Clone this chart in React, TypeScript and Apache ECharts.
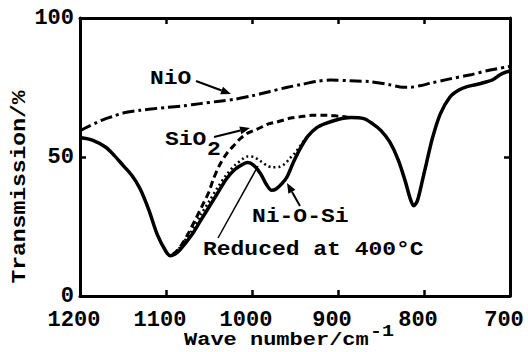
import React, { useEffect, useRef } from "react";
import * as echarts from "echarts";

// Axis ticks
const xTickValues = [1200, 1100, 1000, 900, 800, 700];
const yTickValues = [0, 50, 100];

// Solid curve (sample)
const solidWn = [1200, 1185, 1170, 1160, 1150, 1140, 1130, 1120, 1110, 1100, 1095, 1090, 1084, 1070, 1060, 1050, 1040, 1030, 1020, 1010, 1005, 998, 990, 983, 977, 972, 965, 959, 952, 944, 935, 925, 915, 900, 885, 870, 860, 850, 840, 830, 822, 816, 812, 808, 803, 797, 790, 781, 770, 760, 750, 740, 730, 720, 712, 705, 700];
const solidT = [57, 56, 53.5, 50.5, 47, 43.5, 38.5, 31, 22, 16, 14.5, 15, 16.5, 22, 27, 32, 37, 42, 45.5, 47.5, 48, 47, 44, 40, 38, 38.5, 40.5, 43, 48, 53, 57.5, 60.5, 62, 63.5, 64.2, 63.8, 62, 59.5, 55.5, 49, 41.5, 35, 32.5, 34, 40, 48, 57, 65.5, 71.5, 74, 75.3, 76, 76.8, 77.8, 79.5, 80.5, 81];

// Dashed curve (SiO2)
const sio2Wn = [1092, 1085, 1075, 1065, 1057, 1050, 1045, 1037, 1029, 1020, 1014, 1005, 994, 980, 971, 955, 944, 930, 913, 900, 890, 880];
const sio2T = [15, 17, 22, 28, 33, 37.5, 42, 47.5, 51.4, 54.5, 56.5, 58.6, 60, 62, 62.6, 64, 64.5, 65, 65, 64.7, 64.4, 64.2];

// Dotted curve (reduced at 400 °C)
const reducedWn = [1085, 1070, 1060, 1050, 1040, 1030, 1020, 1010, 1005, 998, 990, 983, 976, 968, 962, 956, 950, 944, 938, 930];
const reducedT = [17, 23.5, 29, 34, 39, 43.5, 47, 49.5, 50.2, 50, 48.5, 47, 46.3, 46.5, 47.5, 49.5, 51.5, 54, 56.5, 59];

// Dash-dot curve (NiO)
const nioWn = [1200, 1190, 1180, 1170, 1160, 1150, 1130, 1110, 1100, 1080, 1060, 1040, 1020, 1000, 980, 960, 944, 925, 909, 886, 863, 840, 828, 816, 805, 793, 770, 747, 723, 700];
const nioT = [59.5, 61, 62.5, 63.8, 64.8, 65.8, 66.8, 67.5, 67.8, 68.4, 69.2, 70, 70.8, 72, 73.5, 75, 76, 77.2, 77.7, 77.4, 77.1, 76, 75.2, 75.1, 75.6, 76.5, 78.1, 79.5, 81.3, 82.6];

const FONT = "'Liberation Mono', 'Courier New', monospace";

function zip(xs: number[], ys: number[]) {
  return xs.map((x, i) => [x, ys[i]]);
}

function arrow(x1: number, y1: number, x2: number, y2: number, head = 10, half = 4) {
  const dx = x2 - x1;
  const dy = y2 - y1;
  const len = Math.sqrt(dx * dx + dy * dy);
  const ux = dx / len;
  const uy = dy / len;
  const bx = x2 - ux * head;
  const by = y2 - uy * head;
  return [
    {
      type: "line",
      shape: { x1, y1, x2: bx, y2: by },
      style: { stroke: "#000", lineWidth: 2 },
    },
    {
      type: "polygon",
      shape: {
        points: [
          [x2, y2],
          [bx - uy * half, by + ux * half],
          [bx + uy * half, by - ux * half],
        ],
      },
      style: { fill: "#000" },
    },
  ];
}

function txt(text: string, x: number, y: number, size = 23, align = "left", extra: any = {}) {
  return {
    type: "text",
    x,
    y,
    scaleY: 0.85,
    ...extra,
    style: {
      text,
      fill: "#000",
      font: `bold ${size}px ${FONT}`,
      align,
      verticalAlign: "middle",
    },
  };
}

export default function App() {
  const ref = useRef<HTMLDivElement>(null);
  useEffect(() => {
    if (!ref.current) return;
    const chart = echarts.init(ref.current, null, { renderer: "svg" });
    const axisLine = { show: true, onZero: false, lineStyle: { color: "#000", width: 3 } };
    const tick = { show: true, inside: true, length: 6, lineStyle: { color: "#000", width: 2.5 } };
    const labelStyle = { color: "#000", fontFamily: FONT, fontSize: 22, fontWeight: "bold" };
    const option: any = {
      animation: false,
      backgroundColor: "#fff",
      grid: { left: 80, right: 18, top: 18, bottom: 56, containLabel: false },
      xAxis: [
        {
          type: "value",
          inverse: true,
          min: 700,
          max: 1200,
          interval: 100,
          position: "bottom",
          axisLine,
          axisTick: tick,
          splitLine: { show: false },
          axisLabel: {
            ...labelStyle,
            margin: 13,
            padding: [0, 12, 0, 0],
            formatter: (v: number) => (xTickValues.includes(v) ? String(v) : ""),
          },
        },
        {
          type: "value",
          inverse: true,
          min: 700,
          max: 1200,
          interval: 100,
          position: "top",
          axisLine,
          axisTick: tick,
          splitLine: { show: false },
          axisLabel: { show: false },
        },
      ],
      yAxis: [
        {
          type: "value",
          min: 0,
          max: 100,
          interval: 50,
          position: "left",
          axisLine,
          axisTick: tick,
          splitLine: { show: false },
          axisLabel: {
            ...labelStyle,
            margin: 6,
            formatter: (v: number) => (yTickValues.includes(v) ? String(v) : ""),
          },
        },
        {
          type: "value",
          min: 0,
          max: 100,
          interval: 50,
          position: "right",
          axisLine,
          axisTick: tick,
          splitLine: { show: false },
          axisLabel: { show: false },
        },
      ],
      series: [
        {
          name: "NiO",
          type: "line",
          data: zip(nioWn, nioT),
          smooth: 0.3,
          showSymbol: false,
          lineStyle: { color: "#000", width: 3, type: [12, 4, 3, 4] },
        },
        {
          name: "SiO2",
          type: "line",
          data: zip(sio2Wn, sio2T),
          smooth: 0.3,
          showSymbol: false,
          lineStyle: { color: "#000", width: 3, type: [7, 4] },
        },
        {
          name: "Reduced at 400°C",
          type: "line",
          data: zip(reducedWn, reducedT),
          smooth: 0.3,
          showSymbol: false,
          lineStyle: { color: "#000", width: 2.5, type: [2, 3] },
        },
        {
          name: "Ni-O-Si",
          type: "line",
          data: zip(solidWn, solidT),
          smooth: 0.3,
          showSymbol: false,
          lineStyle: { color: "#000", width: 3.5, type: "solid" },
        },
      ],
      graphic: [
        txt("Transmission/%", 20, 187, 23, "center", { rotation: Math.PI / 2 }),
        txt("Wave number/cm", 184, 340, 22, "left"),
        txt("-1", 370, 332, 20, "left"),
        txt("NiO", 150, 79, 23, "left"),
        ...arrow(196, 81, 231, 94),
        txt("SiO", 165, 140, 23, "left"),
        txt("2", 207, 150, 23, "left"),
        ...arrow(214, 137, 250, 128),
        txt("Ni-O-Si", 252, 217, 23, "left"),
        ...arrow(300, 206, 287, 183),
        txt("Reduced at 400°C", 203, 250, 23, "left"),
        {
          type: "line",
          shape: { x1: 218, y1: 238, x2: 258, y2: 166 },
          style: { stroke: "#000", lineWidth: 1.5 },
        },
      ],
    };
    chart.setOption(option);
    return () => chart.dispose();
  }, []);
  return (
    <div
      ref={ref}
      style={{ position: "absolute", left: 0, top: 0, width: 528, height: 352, background: "#fff" }}
    />
  );
}
